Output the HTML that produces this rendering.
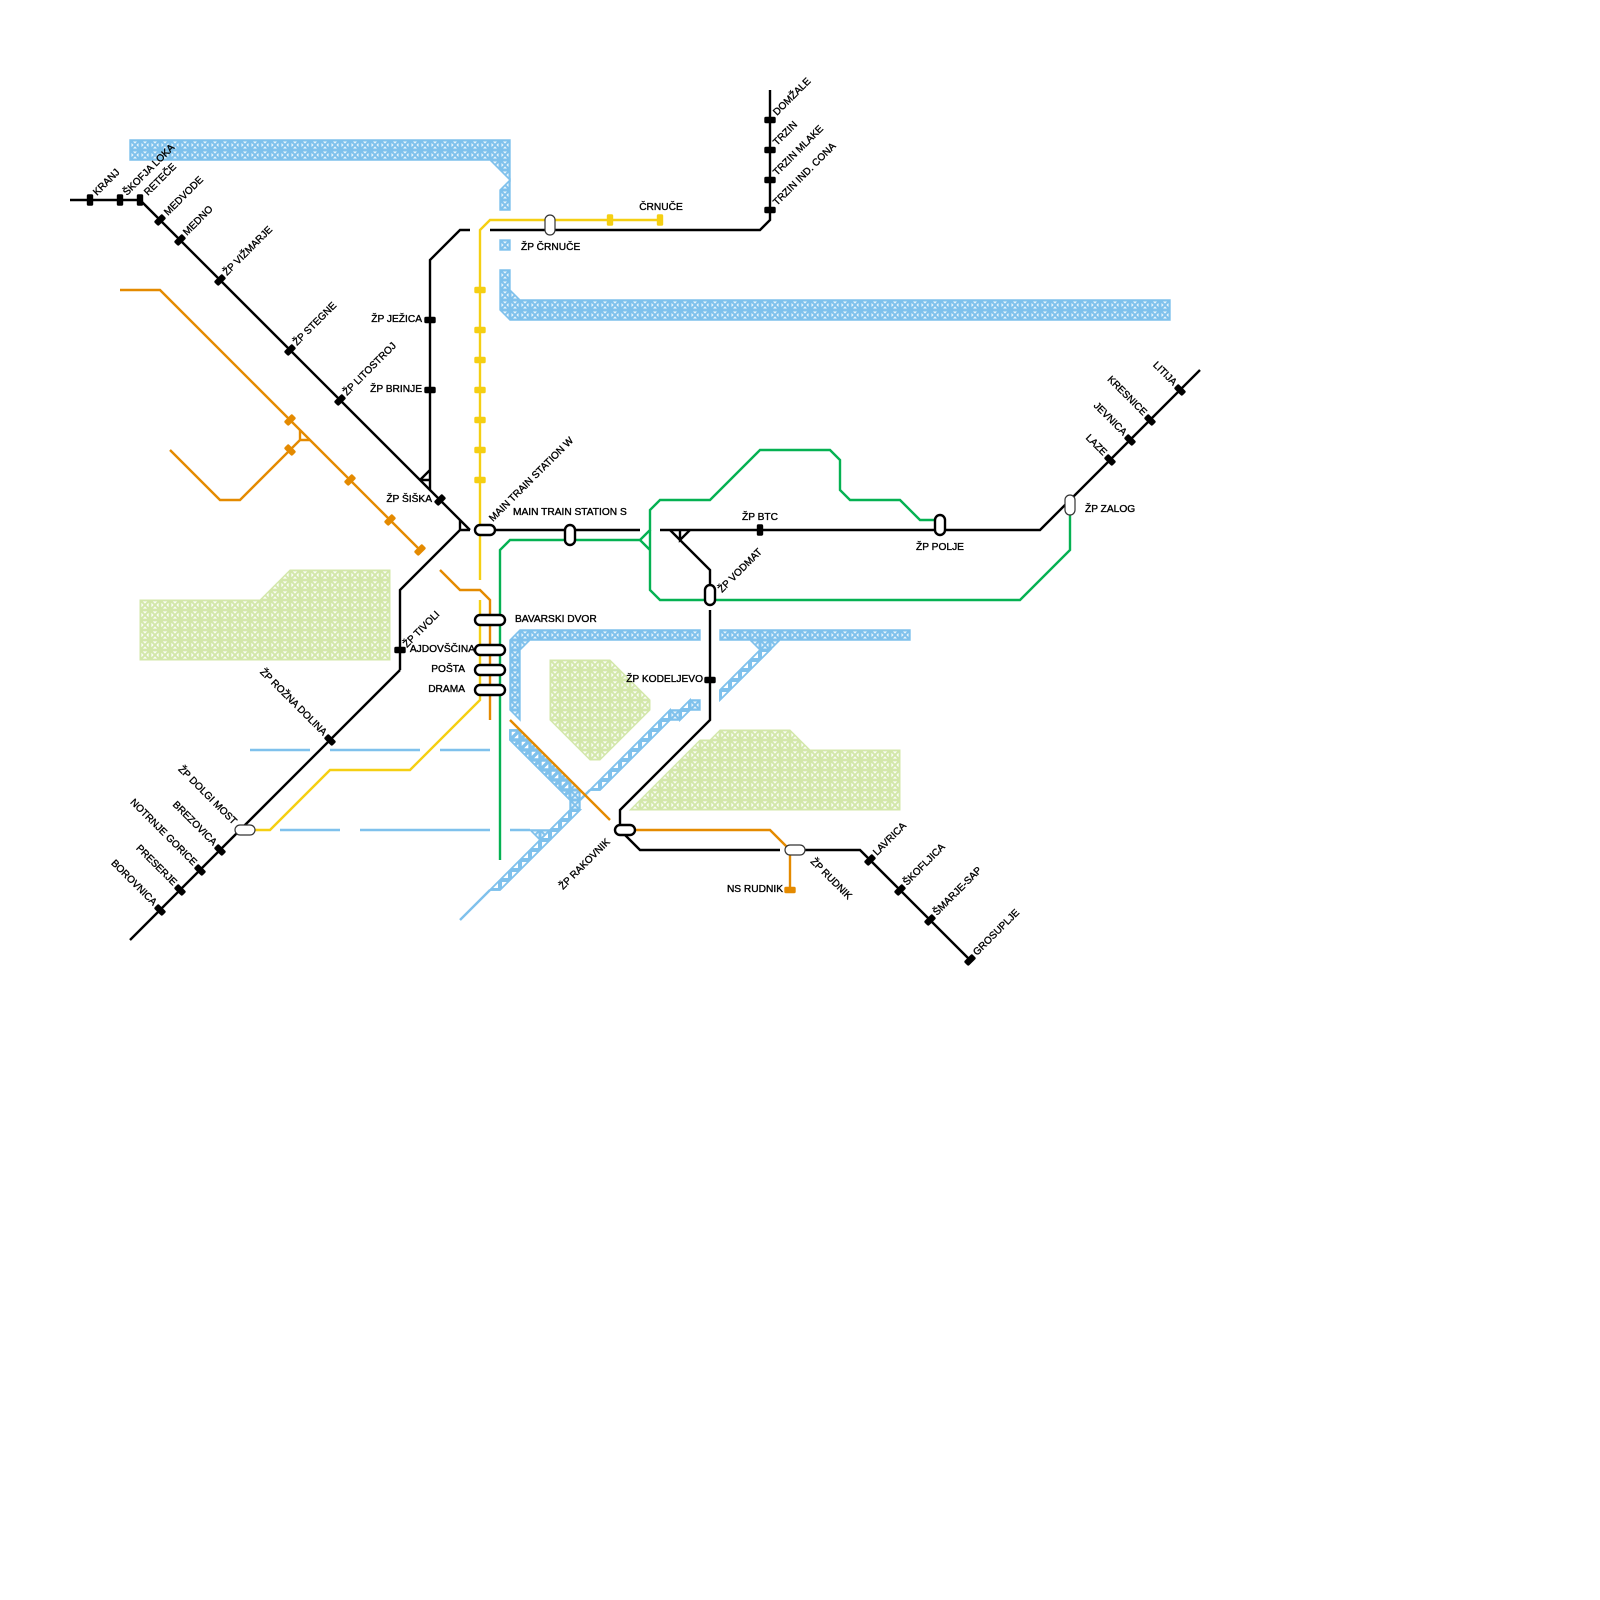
<!DOCTYPE html>
<html>
<head>
<meta charset="utf-8">
<style>
html,body{margin:0;padding:0;background:#fff;width:1600px;height:1600px;overflow:hidden}
svg{display:block}
text{font-family:"Liberation Sans",Arial,sans-serif;font-size:10.2px;fill:#000;stroke:#000;stroke-width:.35px}
text[transform]{font-size:10px}
.e{text-anchor:end}
.m{text-anchor:middle}
.l{fill:none;stroke-width:2.4;stroke-linejoin:miter}
.k{stroke:#000}.o{stroke:#e48a00}.y{stroke:#f5cf12}.g{stroke:#05b152}.b{stroke:#7fc1ec}
.p{fill:#fff;stroke:#000;stroke-width:2.4}
.q{fill:#fff;stroke:#333;stroke-width:1.2}
</style>
</head>
<body>
<svg width="1600" height="1600" viewBox="0 0 1600 1600" xmlns="http://www.w3.org/2000/svg">
<defs>
<pattern id="pb" width="10" height="10" patternUnits="userSpaceOnUse" x="0" y="0">
<rect width="10" height="10" fill="#7fc1ec"/>
<path d="M3 1.5H7L5 3.6ZM3 8.5H7L5 6.4ZM1.5 3V7L3.6 5ZM8.5 3V7L6.4 5Z" fill="#fff" opacity=".85"/>
</pattern>
<pattern id="pt" width="10" height="10" patternUnits="userSpaceOnUse" x="0" y="0">
<rect width="10" height="10" fill="#fff"/>
<path d="M0 0H10M0 10H10M0 0V10M10 0V10" stroke="#7fc1ec" stroke-width="4" fill="none"/>
</pattern>
<pattern id="pu" width="10" height="10" patternUnits="userSpaceOnUse" x="0" y="0">
<rect width="10" height="10" fill="#fff"/>
<path d="M0 0H10M0 10H10M0 0V10M10 0V10M0 10L10 0" stroke="#7fc1ec" stroke-width="3.4" fill="none"/>
</pattern>
<pattern id="pg" width="10" height="10" patternUnits="userSpaceOnUse" x="0" y="0">
<rect width="10" height="10" fill="#d3e7aa"/>
<path d="M2.8 1.4H7.2L5 3.6ZM2.8 8.6H7.2L5 6.4ZM1.4 2.8V7.2L3.6 5ZM8.6 2.8V7.2L6.4 5Z" fill="#fff" opacity=".9"/>
</pattern>
<rect id="t" x="-3.2" y="-5.7" width="6.4" height="11.4" rx="1.6"/>
</defs>

<!-- green zones -->
<g fill="url(#pg)" stroke="#d3e7aa" stroke-width="1">
<polygon points="140,600 260,600 290,570 390,570 390,660 140,660"/>
<polygon points="550,660 610,660 650,700 650,710 600,760 590,760 550,720"/>
<polygon points="630,810 700,740 710,740 720,730 790,730 810,750 900,750 900,810"/>
</g>

<!-- blue bands -->
<g fill="url(#pb)" stroke="#7fc1ec" stroke-width="1.4">
<polygon points="130,140 510,140 510,180 490,160 130,160"/>
<polygon points="500,190 510,180 510,210 500,210"/>
<rect x="500" y="240" width="10" height="10"/>
<polygon points="500,270 510,270 510,290 520,300 1170,300 1170,320 510,320 500,310"/>
<polygon points="700,630 520,630 510,640 510,710 520,720 520,650 530,640 700,640"/>
<polygon points="510,730 520,730 580,790 580,810 500,890 490,890 540,840 530,830 550,830 570,810 570,800 510,740"/>
<polygon points="590,790 670,710 680,710 690,700 700,700 700,710 690,710 680,720 670,720 600,790"/>
<polygon points="720,630 910,630 910,640 780,640 720,700 720,690 760,650 750,640 720,640"/>
</g>
<!-- truss overlays on diagonal segments -->
<g stroke="#7fc1ec" stroke-width="1.8">
<polygon fill="url(#pt)" points="570,810 580,810 550,840 540,840 550,830"/>
<polygon fill="url(#pt)" points="540,840 550,840 500,890 490,890"/>
<polygon fill="url(#pt)" points="590,790 670,710 670,720 600,790"/>
<polygon fill="url(#pt)" points="680,710 690,700 690,710 680,720"/>
<polygon fill="url(#pt)" points="720,690 760,650 770,650 720,700"/>
<polygon fill="url(#pu)" points="510,730 520,730 570,780 570,800 510,740"/>
</g>
<path class="l b" d="M490 890L460 920M590 790L580 800"/>
<path class="l b" d="M250 750H310M330 750H420M440 750H490M280 830H340M360 830H490M510 830H530"/>

<!-- yellow -->
<path class="l y" d="M660 220H490L480 230V580"/>
<path class="l y" d="M480 600V700L410 770H330L270 830H250"/>
<!-- orange -->
<path class="l o" d="M120 290H160L420 550"/>
<path class="l o" d="M170 450L220 500H240L290 450L300 440H310M300 440V430"/>
<path class="l o" d="M440 570L460 590H480L490 600V720"/>
<path class="l o" d="M510 720L610 820"/>
<path class="l o" d="M630 830H770L790 850V890"/>
<!-- green -->
<path class="l g" d="M500 860V550L510 540H640L650 530V510L660 500H710L760 450H830L840 460V490L850 500H900L920 520H935"/>
<path class="l g" d="M640 540L650 550M650 530V590L660 600H1020L1070 550V510"/>
<!-- black -->
<path class="l k" d="M70 200H140L470 530"/>
<path class="l k" d="M400 670V590L460 530V520M460 530H470"/>
<path class="l k" d="M400 670L130 940"/>
<path class="l k" d="M430 490V260L460 230H470M420 480L430 470M421 480H430"/>
<path class="l k" d="M490 230H760L770 220V90"/>
<path class="l k" d="M495 530H640"/>
<path class="l k" d="M660 530H1040L1200 370"/>
<path class="l k" d="M670 530L710 570V585M690 530L680 540V530"/>
<path class="l k" d="M710 610V720L620 810V825"/>
<path class="l k" d="M625 835L640 850H780"/>
<path class="l k" d="M805 850H860L970 960"/>

<!-- ticks -->
<g fill="#000">
<use href="#t" x="90" y="200"/><use href="#t" x="120" y="200"/><use href="#t" x="140" y="200"/>
<use href="#t" transform="translate(160 220) rotate(45)"/>
<use href="#t" transform="translate(180 240) rotate(45)"/>
<use href="#t" transform="translate(220 280) rotate(45)"/>
<use href="#t" transform="translate(290 350) rotate(45)"/>
<use href="#t" transform="translate(340 400) rotate(45)"/>
<use href="#t" transform="translate(440 500) rotate(45)"/>
<use href="#t" transform="translate(430 320) rotate(90)"/>
<use href="#t" transform="translate(430 390) rotate(90)"/>
<use href="#t" transform="translate(400 650) rotate(90)"/>
<use href="#t" transform="translate(330 740) rotate(-45)"/>
<use href="#t" transform="translate(220 850) rotate(-45)"/>
<use href="#t" transform="translate(200 870) rotate(-45)"/>
<use href="#t" transform="translate(180 890) rotate(-45)"/>
<use href="#t" transform="translate(160 910) rotate(-45)"/>
<use href="#t" transform="translate(1110 460) rotate(-45)"/>
<use href="#t" transform="translate(1130 440) rotate(-45)"/>
<use href="#t" transform="translate(1150 420) rotate(-45)"/>
<use href="#t" transform="translate(1180 390) rotate(-45)"/>
<use href="#t" transform="translate(770 120) rotate(90)"/>
<use href="#t" transform="translate(770 150) rotate(90)"/>
<use href="#t" transform="translate(770 180) rotate(90)"/>
<use href="#t" transform="translate(770 210) rotate(90)"/>
<use href="#t" x="760" y="530"/>
<use href="#t" transform="translate(710 680) rotate(90)"/>
<use href="#t" transform="translate(870 860) rotate(45)"/>
<use href="#t" transform="translate(900 890) rotate(45)"/>
<use href="#t" transform="translate(930 920) rotate(45)"/>
<use href="#t" transform="translate(970 960) rotate(45)"/>
</g>
<g fill="#e48a00">
<use href="#t" transform="translate(290 420) rotate(45)"/>
<use href="#t" transform="translate(290 450) rotate(-45)"/>
<use href="#t" transform="translate(350 480) rotate(45)"/>
<use href="#t" transform="translate(390 520) rotate(45)"/>
<use href="#t" transform="translate(420 550) rotate(45)"/>
<use href="#t" transform="translate(790 890) rotate(90)"/>
</g>
<g fill="#f5cf12">
<use href="#t" x="610" y="220"/><use href="#t" x="660" y="220"/>
<use href="#t" transform="translate(480 290) rotate(90)"/>
<use href="#t" transform="translate(480 330) rotate(90)"/>
<use href="#t" transform="translate(480 360) rotate(90)"/>
<use href="#t" transform="translate(480 390) rotate(90)"/>
<use href="#t" transform="translate(480 420) rotate(90)"/>
<use href="#t" transform="translate(480 450) rotate(90)"/>
<use href="#t" transform="translate(480 480) rotate(90)"/>
</g>

<!-- stations -->
<rect class="p" x="475" y="525" width="20" height="10" rx="5"/>
<rect class="p" x="565" y="525" width="10" height="20" rx="5"/>
<rect class="p" x="475" y="615" width="30" height="10" rx="5"/>
<rect class="p" x="475" y="645" width="30" height="10" rx="5"/>
<rect class="p" x="475" y="665" width="30" height="10" rx="5"/>
<rect class="p" x="475" y="685" width="30" height="10" rx="5"/>
<rect class="p" x="705" y="585" width="10" height="20" rx="5"/>
<rect class="p" x="935" y="515" width="10" height="20" rx="5"/>
<rect class="p" x="615" y="825" width="20" height="10" rx="5"/>
<rect class="q" x="545" y="215" width="10" height="20" rx="5"/>
<rect class="q" x="1065" y="495" width="10" height="20" rx="5"/>
<rect class="q" x="235" y="825" width="20" height="10" rx="5"/>
<rect class="q" x="785" y="845" width="20" height="10" rx="5"/>

<!-- rotated up-right labels -->
<text transform="translate(97 196) rotate(-45)">KRANJ</text>
<text transform="translate(127 196) rotate(-45)">ŠKOFJA LOKA</text>
<text transform="translate(148 196) rotate(-45)">RETEČE</text>
<text transform="translate(168 216) rotate(-45)">MEDVODE</text>
<text transform="translate(187 236) rotate(-45)">MEDNO</text>
<text transform="translate(227 276) rotate(-45)">ŽP VIŽMARJE</text>
<text transform="translate(297 346) rotate(-45)">ŽP STEGNE</text>
<text transform="translate(347 396) rotate(-45)">ŽP LITOSTROJ</text>
<text transform="translate(407 648) rotate(-45)">ŽP TIVOLI</text>
<text transform="translate(493 522) rotate(-45)">MAIN TRAIN STATION W</text>
<text transform="translate(722 593) rotate(-45)">ŽP VODMAT</text>
<text transform="translate(777 116) rotate(-45)">DOMŽALE</text>
<text transform="translate(777 146) rotate(-45)">TRZIN</text>
<text transform="translate(777 176) rotate(-45)">TRZIN MLAKE</text>
<text transform="translate(777 206) rotate(-45)">TRZIN IND. CONA</text>
<text transform="translate(877 856) rotate(-45)">LAVRICA</text>
<text transform="translate(907 886) rotate(-45)">ŠKOFLJICA</text>
<text transform="translate(937 916) rotate(-45)">ŠMARJE-SAP</text>
<text transform="translate(977 956) rotate(-45)">GROSUPLJE</text>
<text transform="translate(563 890) rotate(-45)">ŽP RAKOVNIK</text>

<!-- rotated down-right labels -->
<text class="e" transform="translate(1103 456) rotate(45)">LAZE</text>
<text class="e" transform="translate(1123 436) rotate(45)">JEVNICA</text>
<text class="e" transform="translate(1143 416) rotate(45)">KRESNICE</text>
<text class="e" transform="translate(1173 386) rotate(45)">LITIJA</text>
<text class="e" transform="translate(323 736) rotate(45)">ŽP ROŽNA DOLINA</text>
<text class="e" transform="translate(233 825) rotate(45)">ŽP DOLGI MOST</text>
<text class="e" transform="translate(213 846) rotate(45)">BREZOVICA</text>
<text class="e" transform="translate(193 866) rotate(45)">NOTRNJE GORICE</text>
<text class="e" transform="translate(173 886) rotate(45)">PRESERJE</text>
<text class="e" transform="translate(153 906) rotate(45)">BOROVNICA</text>
<text transform="translate(810 862) rotate(45)">ŽP RUDNIK</text>

<!-- horizontal labels -->
<text class="e" x="422" y="322">ŽP JEŽICA</text>
<text class="e" x="422" y="392">ŽP BRINJE</text>
<text class="e" x="432" y="502">ŽP ŠIŠKA</text>
<text class="e" x="475" y="652">AJDOVŠČINA</text>
<text class="e" x="465" y="672">POŠTA</text>
<text class="e" x="465" y="692">DRAMA</text>
<text x="515" y="622">BAVARSKI DVOR</text>
<text x="513" y="515">MAIN TRAIN STATION S</text>
<text x="521" y="250">ŽP ČRNUČE</text>
<text class="m" x="661" y="210">ČRNUČE</text>
<text class="m" x="760" y="520">ŽP BTC</text>
<text class="m" x="940" y="550">ŽP POLJE</text>
<text x="1085" y="512">ŽP ZALOG</text>
<text class="e" x="703" y="682">ŽP KODELJEVO</text>
<text class="e" x="783" y="892">NS RUDNIK</text>
</svg>
</body>
</html>
